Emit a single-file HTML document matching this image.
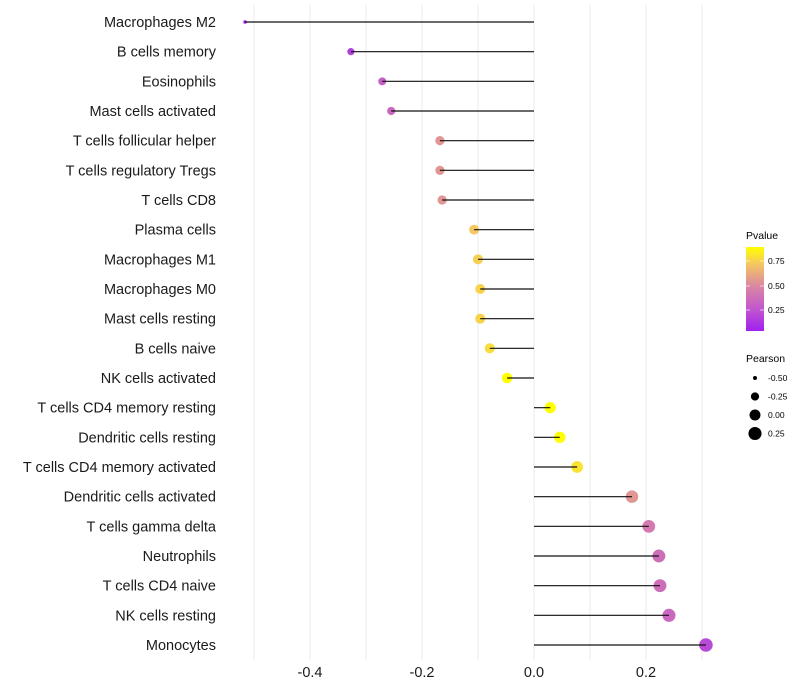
<!DOCTYPE html>
<html><head><meta charset="utf-8"><style>
body{margin:0;background:#fff;}
svg{display:block;font-family:"Liberation Sans",Arial,sans-serif;}
</style></head><body>
<svg id="chart" width="800" height="700">
<defs>
<linearGradient id="pgrad" x1="0" y1="1" x2="0" y2="0">
<stop offset="0" stop-color="#a020f0"/>
<stop offset="0.25" stop-color="#c055d0"/>
<stop offset="0.55" stop-color="#dc8aa0"/>
<stop offset="0.8" stop-color="#f5c860"/>
<stop offset="1" stop-color="#ffff00"/>
</linearGradient>
</defs>
<g id="grid"></g>
<g id="marks"></g>
<g id="ylabels"></g>
<g id="xlabels"></g>
<g>
<text x="746" y="239" font-size="10.5" fill="#000">Pvalue</text>
<rect x="746" y="247" width="18" height="84" fill="url(#pgrad)"/>
<line x1="746" y1="261" x2="750" y2="261" stroke="#fff" opacity=".6"/><line x1="760" y1="261" x2="764" y2="261" stroke="#fff" opacity=".6"/>
<line x1="746" y1="286" x2="750" y2="286" stroke="#fff" opacity=".6"/><line x1="760" y1="286" x2="764" y2="286" stroke="#fff" opacity=".6"/>
<line x1="746" y1="310" x2="750" y2="310" stroke="#fff" opacity=".6"/><line x1="760" y1="310" x2="764" y2="310" stroke="#fff" opacity=".6"/>
<text x="768" y="264" font-size="8.5">0.75</text>
<text x="768" y="289" font-size="8.5">0.50</text>
<text x="768" y="313" font-size="8.5">0.25</text>
</g>
<g id="sizeleg">
<text x="746" y="362" font-size="10.5" fill="#000">Pearson</text>
</g>
</svg>
<script>
const cells = ["Macrophages M2","B cells memory","Eosinophils","Mast cells activated","T cells follicular helper","T cells regulatory  Tregs ","T cells CD8","Plasma cells","Macrophages M1","Macrophages M0","Mast cells resting","B cells naive","NK cells activated","T cells CD4 memory resting","Dendritic cells resting","T cells CD4 memory activated","Dendritic cells activated","T cells gamma delta","Neutrophils","T cells CD4 naive","NK cells resting","Monocytes"];
const pearson = [-0.516,-0.327,-0.271,-0.255,-0.168,-0.168,-0.164,-0.107,-0.1,-0.096,-0.096,-0.079,-0.048,0.029,0.046,0.077,0.175,0.205,0.223,0.225,0.241,0.307];
const pvalue = [0.04,0.17,0.3,0.34,0.55,0.55,0.55,0.75,0.77,0.78,0.78,0.8,0.9,0.9,0.89,0.82,0.55,0.42,0.37,0.37,0.34,0.2];
const xTicks = [-0.4,-0.2,0.0,0.2];
const xTickLabels = ["-0.4","-0.2","0.0","0.2"];
const gridVals = [-0.5,-0.4,-0.3,-0.2,-0.1,0,0.1,0.2,0.3];
const sizeLegVals = [-0.5,-0.25,0,0.25];
const sizeLegLabels = ["-0.50","-0.25","0.00","0.25"];

const NS="http://www.w3.org/2000/svg";
const x = v => 534 + 560*v;
const y = i => 22 + i*(623/21);
const r = v => Math.sqrt(Math.max(1.5, 30 + 52*v));
const stops=[[0.036,[160,32,240]],[0.25,[192,85,208]],[0.5,[220,138,160]],[0.75,[245,200,96]],[0.89,[255,255,0]]];
function pcol(p){
  if(p<=stops[0][0])return `rgb(${stops[0][1]})`;
  for(let k=1;k<stops.length;k++){ if(p<=stops[k][0]){const a=stops[k-1],b=stops[k];const t=(p-a[0])/(b[0]-a[0]);
    return `rgb(${a[1].map((c,j)=>Math.round(c+(b[1][j]-c)*t)).join(',')})`;}}
  return 'rgb(255,255,0)';
}
function mk(tag,attrs,parent){const e=document.createElementNS(NS,tag);for(const k in attrs)e.setAttribute(k,attrs[k]);parent.appendChild(e);return e;}
const grid=document.getElementById('grid'),marks=document.getElementById('marks'),yl=document.getElementById('ylabels'),xl=document.getElementById('xlabels');
gridVals.forEach(g=>{const l=mk('line',{x1:x(g),x2:x(g),y1:5,y2:660,stroke:'#ebebeb','stroke-width':1},grid);

});
cells.forEach((c,i)=>{
  const cy=y(i);
  const pt=mk('circle',{cx:x(pearson[i]),cy:cy,r:r(pearson[i]),fill:pcol(pvalue[i])},marks);
  
  
  const ln=mk('line',{x1:x(0),x2:x(pearson[i]),y1:cy,y2:cy,stroke:'#111','stroke-width':1.2},marks);
  
  
  const t=mk('text',{x:216,y:cy+5,'text-anchor':'end','font-size':14.5,fill:'#1a1a1a'},yl);
  
  
  t.textContent=c;
});
xTicks.forEach((v,i)=>{const t=mk('text',{x:x(v),y:677,'text-anchor':'middle','font-size':14.5,fill:'#1a1a1a'},xl);


t.textContent=xTickLabels[i];});
const sl=document.getElementById('sizeleg');
sizeLegVals.forEach((v,i)=>{const cy=378+i*18.5;
const c=mk('circle',{cx:755,cy:cy,r:r(v),fill:'#000'},sl);


const t=mk('text',{x:768,y:cy+3,'font-size':8.5},sl);


t.textContent=sizeLegLabels[i];});
</script>
</body></html>
